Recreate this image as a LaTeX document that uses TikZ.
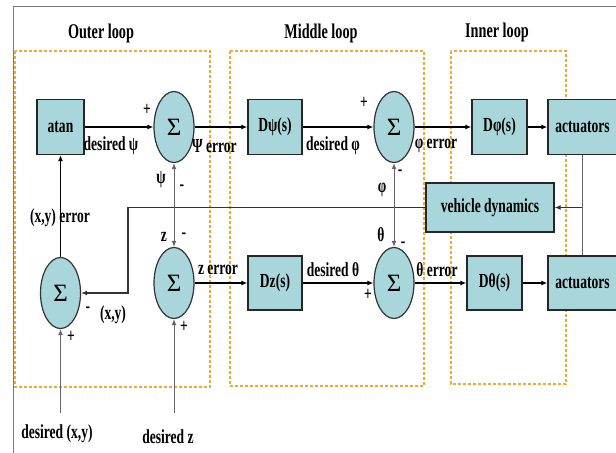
\documentclass[tikz,border=0pt]{standalone}
\usepackage{fontspec}
\setmainfont{Liberation Serif}[FakeStretch=0.68]
\newfontfamily\sigfont{Liberation Serif}
\usetikzlibrary{shapes.geometric,arrows.meta}
\definecolor{boxfill}{RGB}{168,214,218}
\definecolor{dashor}{RGB}{240,170,50}
\definecolor{framegray}{RGB}{120,120,120}
\tikzset{
  body/.style={font=\fontsize{20}{22}\selectfont\bfseries},
  ttl/.style={font=\fontsize{21}{23}\selectfont\bfseries},
  blk/.style={draw=black!85, fill=boxfill, line width=1.3bp, inner sep=0pt, body},
  sumn/.style={ellipse, draw=black!80, fill=boxfill, line width=1.2bp, inner sep=0pt,
     minimum width=40bp, minimum height=71bp, font=\sigfont\fontsize{25}{25}\selectfont},
  sig/.style={line width=1.5bp, -{Latex[length=6bp,width=5bp]}},
  fbk/.style={line width=1bp, draw=black!60},
  loopbox/.style={draw=dashor, line width=1.4bp, dash pattern=on 3bp off 2bp},
  lbl/.style={body, inner sep=0pt},
}
\begin{document}
\begin{tikzpicture}[x=1bp,y=-1bp]
\useasboundingbox (0,0) rectangle (616,453);
\fill[white] (0,0) rectangle (616,453);
% frame
\draw[framegray, line width=1bp] (616,7) -- (13,7) -- (13,453);
% loop boxes
\draw[loopbox] (15,51) rectangle (210,387);
\draw[loopbox] (230,51) rectangle (424,386);
\draw[loopbox] (451,51) rectangle (566,384);
\node[ttl] (t1) at (101,33) {Outer loop};
\node[ttl] (t2) at (321,33) {Middle loop};
\node[ttl] (t3) at (497,32) {Inner loop};
% blocks
\node[blk, minimum width=47bp, minimum height=55bp] (atan) at (60.5,127) {atan};
\node[blk, minimum width=54bp, minimum height=55bp] (dpsi) at (275,127) {Dψ(s)};
\node[blk, minimum width=55bp, minimum height=55bp] (dphi) at (499.5,127) {Dφ(s)};
\node[blk, minimum width=69bp, minimum height=55bp] (act1) at (582.5,127) {actuators};
\node[blk, minimum width=128bp, minimum height=49bp] (vd) at (490,207.5) {vehicle dynamics};
\node[blk, minimum width=54bp, minimum height=54bp] (dz) at (275,283) {Dz(s)};
\node[blk, minimum width=55bp, minimum height=54bp] (dth) at (494.5,283) {Dθ(s)};
\node[blk, minimum width=69bp, minimum height=54bp] (act2) at (582.5,283) {actuators};
% sums
\node[sumn] (s1) at (174,127) {Σ};
\node[sumn] (s2) at (394,127) {Σ};
\node[sumn] (s3) at (60.5,293) {Σ};
\node[sumn] (s4) at (174,283) {Σ};
\node[sumn] (s5) at (394,283) {Σ};
% helper coordinates
\coordinate (rv) at (582,207.5);
\coordinate (fbx) at (128,250);
\coordinate (in3) at (60.5,413);
\coordinate (in4) at (174,413);
% forward paths
\draw[sig] (atan.east) -- (s1.west);
\draw[sig] (s1.east) -- (dpsi.west);
\draw[sig] (dpsi.east) -- (s2.west);
\draw[sig] (s2.east) -- (dphi.west);
\draw[sig] (dphi.east) -- (act1.west);
\draw[sig] (s4.east) -- (dz.west);
\draw[sig] (dz.east) -- (s5.west);
\draw[sig] (s5.east) -- (dth.west);
\draw[sig] (dth.east) -- (act2.west);
\draw[sig, line width=1.2bp] (s3.north) -- (atan.south);
% feedback
\draw[fbk] (act1.south -| rv) -- (act2.north -| rv);
\draw[fbk, line width=1.2bp, draw=black!80, -{Latex[length=6bp,width=5bp]}] (rv) -- (vd.east);
\draw[fbk, line width=1.2bp, draw=black!80, -{Latex[length=6bp,width=5bp]}] (vd.west) -| (fbx) |- (s3.east);
\draw[fbk, {Latex[length=6bp,width=5bp]}-{Latex[length=6bp,width=5bp]}] (s1.south) -- (s4.north);
\draw[fbk, {Latex[length=6bp,width=5bp]}-{Latex[length=6bp,width=5bp]}] (s2.south) -- (s5.north);
\draw[fbk, -{Latex[length=6bp,width=5bp]}] (in3) -- (s3.south);
\draw[fbk, -{Latex[length=6bp,width=5bp]}] (in4) -- (s4.south);
% labels
\node[lbl] (l1) at (111,146) {desired ψ};
\node[lbl, anchor=west] (l2) at (192,146) {Ψ error};
\node[lbl] (l3) at (333,146) {desired φ};
\node[lbl] (l4) at (436,146) {φ error};
\node[lbl] (p1) at (147,110) {+};
\node[lbl] (p2) at (364,103) {+};
\node[lbl] (l5) at (161,180) {ψ};
\node[lbl] (m1) at (182,188) {-};
\node[lbl] (l6) at (382,190) {φ};
\node[lbl] (m2) at (400,173) {-};
\node[lbl] (l7) at (164,237) {z};
\node[lbl] (m3) at (184,236) {-};
\node[lbl] (l8) at (381,235) {θ};
\node[lbl] (m4) at (403,245) {-};
\node[lbl] (l9) at (60,218) {(x,y) error};
\node[lbl] (m5) at (88,310) {-};
\node[lbl] (l10) at (113,315) {(x,y)};
\node[lbl] (p3) at (71,337) {+};
\node[lbl] (p4) at (184,327) {+};
\node[lbl] (p5) at (368,295) {+};
\node[lbl] (l11) at (218,270) {z error};
\node[lbl] (l12) at (333,270) {desired θ};
\node[lbl] (l13) at (437,270) {θ error};
\node[lbl] (l14) at (57,434) {desired (x,y)};
\node[lbl] (l15) at (168,437) {desired z};
\end{tikzpicture}
\end{document}
